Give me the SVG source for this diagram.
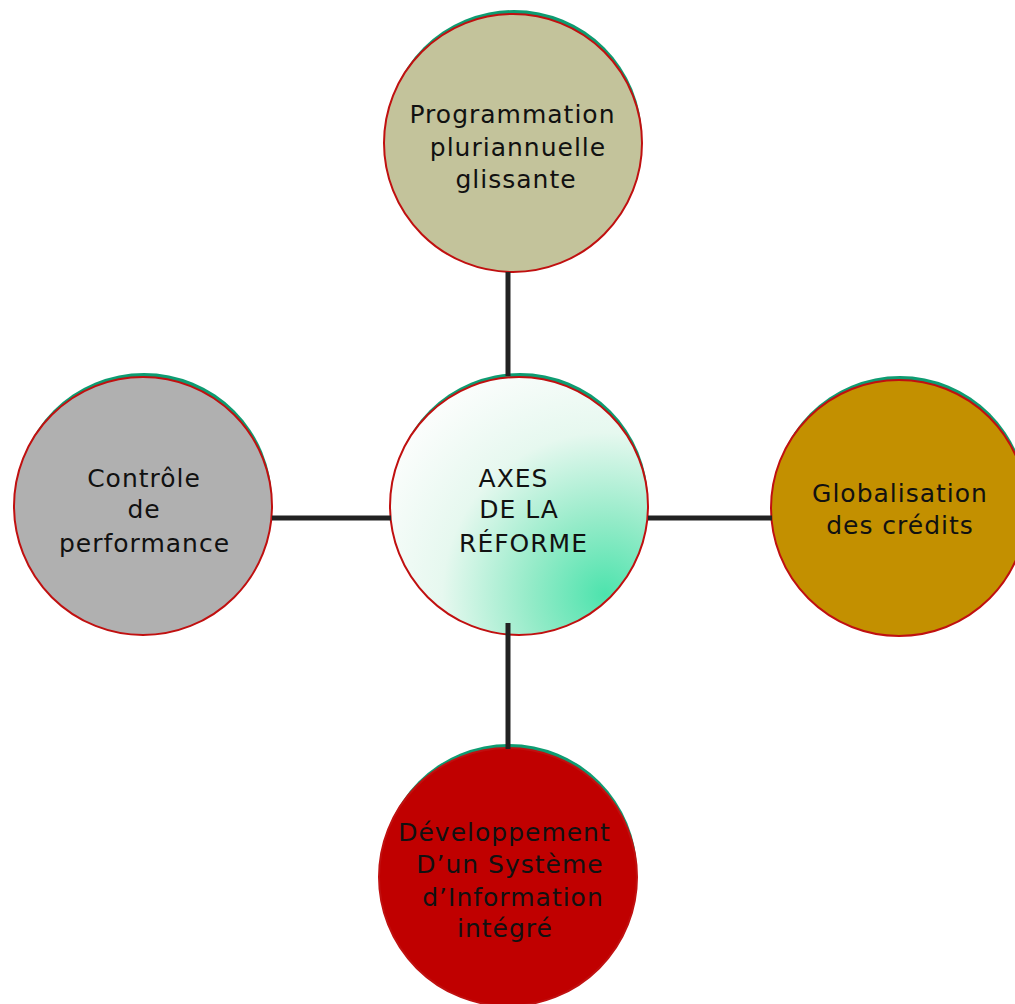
<svg xmlns="http://www.w3.org/2000/svg" width="1015" height="1004" viewBox="0 0 1015 1004">
  <defs>
    <radialGradient id="centerFill" gradientUnits="userSpaceOnUse" cx="605" cy="595" r="250">
      <stop offset="0" stop-color="#4de3ad"/>
      <stop offset="0.3" stop-color="#94ebc8"/>
      <stop offset="0.65" stop-color="#e6f8ef"/>
      <stop offset="1" stop-color="#fbfdfc"/>
    </radialGradient>
  </defs>
  <style>
    .halo { fill: #0e9c72; }
    .disc { stroke: #c01010; stroke-width: 2; }
    .label { font-family: "DejaVu Sans", Verdana, sans-serif; font-size: 25px; letter-spacing: 1px; fill: #111; text-anchor: middle; }
    .link { stroke: #222; stroke-width: 5; fill: none; }
  </style>
  <rect width="1015" height="1004" fill="#ffffff"/>

  <g id="node-programmation">
    <circle class="halo" cx="514" cy="138" r="128"/>
    <circle class="disc" cx="513" cy="143" r="129" fill="#c3c39b"/>
    <text class="label" x="512.5" y="123">Programmation</text>
    <text class="label" x="518" y="156">pluriannuelle</text>
    <text class="label" x="516" y="188">glissante</text>
  </g>

  <g id="node-controle">
    <circle class="halo" cx="144" cy="501" r="128"/>
    <circle class="disc" cx="143" cy="506" r="129" fill="#b0b0b0"/>
    <text class="label" x="144" y="487">Contrôle</text>
    <text class="label" x="144" y="518">de</text>
    <text class="label" x="144.5" y="552">performance</text>
  </g>

  <g id="node-globalisation">
    <circle class="halo" cx="900" cy="503" r="127"/>
    <circle class="disc" cx="899" cy="508" r="128" fill="#c39000"/>
    <text class="label" x="900" y="502">Globalisation</text>
    <text class="label" x="900" y="534">des crédits</text>
  </g>

  <g id="node-systeme">
    <circle class="halo" cx="509" cy="872" r="128"/>
    <circle class="disc" cx="508" cy="877" r="129" fill="#c00000"/>
    <text class="label" x="504.5" y="841">Développement</text>
    <text class="label" x="510" y="873">D’un Système</text>
    <text class="label" x="513" y="906">d’Information</text>
    <text class="label" x="505" y="937">intégré</text>
  </g>

  <g id="node-axes">
    <circle class="halo" cx="520" cy="501" r="128"/>
    <circle class="disc" cx="519" cy="506" r="129" fill="url(#centerFill)"/>
    <text class="label" x="513.5" y="487">AXES</text>
    <text class="label" x="519" y="518">DE LA</text>
    <text class="label" x="523.5" y="552">RÉFORME</text>
  </g>

  <g id="connectors">
    <line class="link" x1="508" y1="272" x2="508" y2="376"/>
    <line class="link" x1="508" y1="623" x2="508" y2="749"/>
    <line class="link" x1="272" y1="518" x2="391" y2="518"/>
    <line class="link" x1="648" y1="518" x2="772" y2="518"/>
  </g>
</svg>
